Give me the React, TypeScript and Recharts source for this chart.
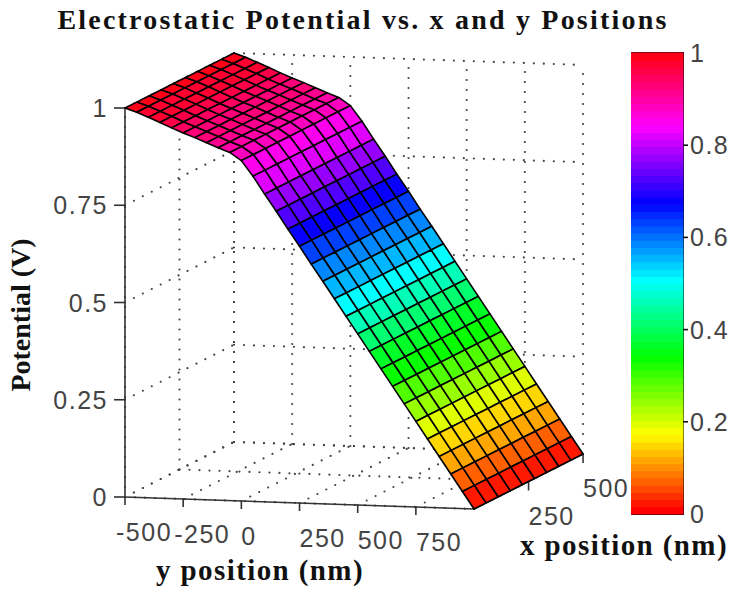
import React from 'react';
import { ScatterChart, Scatter, XAxis, YAxis, BarChart, Bar, ReferenceArea, ReferenceLine } from 'recharts';

// ---- data ----
const yPositions = [-500,-450,-400,-350,-300,-250,-200,-150,-100,-50,0,50,100,150,200,250,300,350,400,450,500,550,600,650,700,750,800,850,900,950,1000];
const xPositions = [0,55.5,111,166.5,222,277.5,333,388.5,444,500];
const potential = [1,0.99,0.978,0.966,0.953,0.941,0.93,0.918,0.906,0.895,0.875,0.836,0.791,0.748,0.703,0.66,0.615,0.572,0.528,0.484,0.44,0.396,0.352,0.308,0.264,0.22,0.176,0.132,0.088,0.044,0];
const yTicks = [-500,-250,0,250,500,750];
const yGrid = [-500,-250,0,250,500,750,1000];
const xTicks = [250,500];
const xGrid = [0,250,500];
const zTicks = [0,0.25,0.5,0.75,1];
const zTickLabels = ['0','0.25','0.5','0.75','1'];
const barTicks = [0,0.2,0.4,0.6,0.8,1];
const barInnerTicks = [0.2,0.4,0.6,0.8];
const barLevels = 64;
const TITLE = 'Electrostatic Potential vs. x and y Positions';
const Y_TITLE = 'y position (nm)';
const X_TITLE = 'x position (nm)';
const Z_TITLE = 'Potential (V)';

// ---- helpers ----
const W = 744, H = 590;
const project = (y: number, x: number, z: number, ox = 0, oy = 0) => ({
  sx: 125 + (y + 500) * 0.2327 + x * 0.218 + ox,
  sy: 497 + (y + 500) * 0.008 - x * 0.11 - z * 389 + oy,
});
const hsv = (v: number) => {
  const h = ((v % 1) + 1) % 1 * 6;
  const f = h - Math.floor(h);
  const rgb = [[1, f, 0], [1 - f, 1, 0], [0, 1, f], [0, 1 - f, 1], [f, 0, 1], [1, 0, 1 - f]][Math.floor(h) % 6];
  return `rgb(${rgb.map((c) => Math.round(c * 255)).join(',')})`;
};
const quantised = (z: number) => hsv(Math.min(barLevels - 1, Math.floor(z * barLevels)) / barLevels);

const noDot = () => <g />;
const polygonLine = (fill: string) => (p: any) => (
  <polygon points={p.points.map((q: any) => `${q.x},${q.y}`).join(' ')} fill={fill} stroke="#000" strokeWidth={1.6} strokeLinejoin="round" />
);
const path = (pts: any[], key: string, line: any) => (
  <Scatter key={key} data={pts} line={line} shape={noDot} isAnimationActive={false} legendType="none" fill="none" />
);
const DOTTED = { stroke: '#444', strokeWidth: 2.2, strokeDasharray: '0 10', strokeLinecap: 'round' };
const AXIS = { stroke: '#333', strokeWidth: 1.6 };

const grid: React.ReactNode[] = [];
yGrid.forEach((y) => {
  grid.push(path([project(y, 0, 0), project(y, 500, 0)], `f-y${y}`, DOTTED));
  grid.push(path([project(y, 500, 0), project(y, 500, 1)], `b-y${y}`, DOTTED));
});
xGrid.forEach((x) => {
  grid.push(path([project(-500, x, 0), project(1000, x, 0)], `f-x${x}`, DOTTED));
  grid.push(path([project(-500, x, 0), project(-500, x, 1)], `l-x${x}`, DOTTED));
});
zTicks.forEach((z) => {
  grid.push(path([project(-500, 0, z), project(-500, 500, z)], `l-z${z}`, DOTTED));
  grid.push(path([project(-500, 500, z), project(1000, 500, z)], `b-z${z}`, DOTTED));
});

const axes: React.ReactNode[] = [
  path([project(-500, 0, 0), project(-500, 0, 1)], 'ax-z', AXIS),
  path([project(-500, 0, 0), project(1000, 0, 0)], 'ax-y', AXIS),
  path([project(1000, 0, 0), project(1000, 500, 0)], 'ax-x', AXIS),
];
zTicks.forEach((z) => axes.push(path([project(-500, 0, z), project(-500, 0, z, -11, 0)], `t-z${z}`, AXIS)));
yTicks.forEach((y) => axes.push(path([project(y, 0, 0), project(y, 0, 0, 0, 8)], `t-y${y}`, AXIS)));
xTicks.forEach((x) => axes.push(path([project(1000, x, 0), project(1000, x, 0, 0, 9)], `t-x${x}`, AXIS)));

const cells: React.ReactNode[] = [];
for (let r = 0; r < yPositions.length - 1; r++) {
  const z0 = potential[r], z1 = potential[r + 1];
  const fill = quantised((z0 + z1) / 2);
  for (let c = 0; c < xPositions.length - 1; c++) {
    const pts = [
      project(yPositions[r], xPositions[c], z0),
      project(yPositions[r], xPositions[c + 1], z0),
      project(yPositions[r + 1], xPositions[c + 1], z1),
      project(yPositions[r + 1], xPositions[c], z1),
    ];
    cells.push(path(pts, `c${r}-${c}`, polygonLine(fill)));
  }
}

const TICK_FONT = { fontFamily: '"Liberation Sans"', fontSize: 25, fill: '#444', letterSpacing: 1.5 };
const TITLE_FONT = { fontFamily: '"Liberation Serif"', fontWeight: 700, fill: '#111' };

const labelShape = (text: (p: any) => string, anchor: string, dx: (p: any) => number, dy: number) => (p: any) => (
  <text x={p.cx + dx(p.payload)} y={p.cy + dy} textAnchor={anchor} dominantBaseline="central" {...TICK_FONT}>{text(p.payload)}</text>
);
const zLabelData = zTicks.map((z, i) => ({ ...project(-500, 0, z), label: zTickLabels[i] }));
const yLabelData = yTicks.map((y) => ({ ...project(y, 0, 0), label: String(y), neg: y < 0 }));
const xLabelData = xTicks.map((x) => ({ ...project(1000, x, 0), label: String(x) }));

const barRow: Record<string, number | string> = { name: 'scale' };
const barKeys = Array.from({ length: barLevels }, (_, i) => `l${i}`);
barKeys.forEach((k) => { barRow[k] = 1 / barLevels; });
const barData = [barRow];

const BarTick = (p: any) => (
  <text x={p.x + 7} y={p.y} dominantBaseline="central" {...TICK_FONT}>{p.payload.value}</text>
);
const InnerTicks = (p: any) => (
  <g>
    <line x1={p.x1} x2={p.x1 + 5} y1={p.y1} y2={p.y1} stroke="#111" strokeWidth={1.6} />
    <line x1={p.x2 - 5} x2={p.x2} y1={p.y1} y2={p.y1} stroke="#111" strokeWidth={1.6} />
  </g>
);

export default function App() {
  return (
    <div style={{ position: 'absolute', left: 0, top: 0, width: W, height: H, background: '#fff', overflow: 'hidden' }}>
      <div style={{ position: 'absolute', left: 0, top: 0 }}>
        <ScatterChart width={W} height={H} margin={{ top: 0, right: 0, bottom: 0, left: 0 }}>
          <XAxis type="number" dataKey="sx" domain={[0, W]} hide allowDataOverflow />
          <YAxis type="number" dataKey="sy" domain={[0, H]} reversed hide allowDataOverflow />
          {grid}
          {axes}
          {cells}
          <Scatter data={zLabelData} isAnimationActive={false} shape={labelShape((d) => d.label, 'end', () => -17, 0)} />
          <Scatter data={yLabelData} isAnimationActive={false} shape={labelShape((d) => d.label, 'start', (d) => (d.neg ? -9 : 0), 35)} />
          <Scatter data={xLabelData} isAnimationActive={false} shape={labelShape((d) => d.label, 'start', () => 0, 34)} />
          <text x={363} y={29} textAnchor="middle" fontSize={28} letterSpacing={2.2} {...TITLE_FONT}>{TITLE}</text>
          <text x={260} y={580} textAnchor="middle" fontSize={29} letterSpacing={1.4} {...TITLE_FONT}>{Y_TITLE}</text>
          <text x={624} y={555} textAnchor="middle" fontSize={29} letterSpacing={1.4} {...TITLE_FONT}>{X_TITLE}</text>
          <text x={0} y={0} transform="translate(30,315) rotate(-90)" textAnchor="middle" fontSize={28} {...TITLE_FONT}>{Z_TITLE}</text>
        </ScatterChart>
      </div>
      <div style={{ position: 'absolute', left: 631, top: 0 }}>
        <BarChart width={113} height={H} data={barData} margin={{ top: 53, right: 0, bottom: 76, left: 0 }} barCategoryGap={0} style={{ overflow: 'visible' }}>
          <XAxis dataKey="name" hide />
          {barKeys.map((k, i) => (
            <Bar key={k} dataKey={k} stackId="scale" fill={hsv(i / barLevels)} stroke={hsv(i / barLevels)} strokeWidth={1} isAnimationActive={false} />
          ))}
          <ReferenceArea y1={0} y2={1} fill="none" stroke="#111" strokeWidth={2} ifOverflow="visible" />
          {barInnerTicks.map((v) => (
            <ReferenceLine key={v} y={v} shape={InnerTicks} />
          ))}
          <YAxis type="number" orientation="right" domain={[0, 1]} ticks={barTicks} width={61} tickSize={0} tickMargin={0} axisLine={false} tickLine={false} tick={<BarTick />} interval={0} />
        </BarChart>
      </div>
    </div>
  );
}
